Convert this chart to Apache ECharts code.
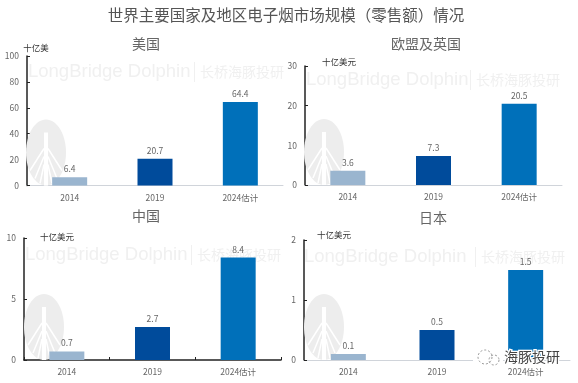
<!DOCTYPE html>
<html>
<head>
<meta charset="utf-8">
<style>html,body{margin:0;padding:0;background:#fff}#main{width:578px;height:383px}</style>
<script src="https://cdn.jsdelivr.net/npm/echarts@6/dist/echarts.min.js"></script>
</head>
<body>
<div id="main"></div>
<script>
var categories = ['2014', '2019', '2024估计'];
var usValues = [6.4, 20.7, 64.4];
var euValues = [3.6, 7.3, 20.5];
var cnValues = [0.7, 2.7, 8.4];
var jpValues = [0.1, 0.5, 1.5];
var barColors = ['#9AB5CF', '#004B9B', '#0070BA'];
var font = '"Noto Sans CJK SC","Liberation Sans",sans-serif';

// 每个小图的位置
var panels = [
    {name: '美国', data: usValues, max: 100, interval: 20, unit: '十亿美', left: 27, right: 283, top: 56, bottom: 185.5, titleX: 146, titleY: 44, unitX: 36, unitY: 48, logoX: 46, wmY: 72, wmX: 28, wmGap: 172, tickX: false},
    {name: '欧盟及英国', data: euValues, max: 30, interval: 10, unit: '十亿美元', left: 305, right: 562, top: 66, bottom: 185, titleX: 426, titleY: 44, unitX: 339, unitY: 62, logoX: 324, wmY: 80, wmX: 306, wmGap: 170, tickX: false},
    {name: '中国', data: cnValues, max: 10, interval: 5, unit: '十亿美元', left: 24, right: 281, top: 238, bottom: 360, titleX: 146, titleY: 216, unitX: 57, unitY: 237, logoX: 44, wmY: 255, wmX: 25, wmGap: 172, tickX: true},
    {name: '日本', data: jpValues, max: 2, interval: 1, unit: '十亿美元', left: 304, right: 570, top: 240, bottom: 360, titleX: 433, titleY: 218, unitX: 334, unitY: 235, logoX: 324, wmY: 257, wmX: 304, wmGap: 177, tickX: false}
];

var grids = [], xAxes = [], yAxes = [], series = [], graphics = [];

function label(x, y, text, size, color, extra) {
    var style = {x: x, y: y, text: text, fontSize: size, fill: color, fontFamily: font, align: 'center', verticalAlign: 'middle'};
    for (var k in extra) style[k] = extra[k];
    return {type: 'text', z: 5, silent: true, style: style};
}

panels.forEach(function (p, i) {
    grids.push({left: p.left, top: p.top, width: p.right - p.left, height: p.bottom - p.top});
    xAxes.push({
        type: 'category', gridIndex: i, data: categories,
        axisLine: {lineStyle: {color: p.tickX ? '#222' : '#D0D4DA', width: p.tickX ? 1.5 : 1}},
        axisTick: {show: p.tickX, inside: true, length: 3, lineStyle: {color: '#222'}},
        axisLabel: {color: '#666', fontSize: 8.5, margin: 8, fontFamily: font}
    });
    yAxes.push({
        type: 'value', gridIndex: i, min: 0, max: p.max, interval: p.interval,
        axisLine: {show: true, lineStyle: {color: '#222', width: 1.5}},
        axisTick: {show: true, inside: true, length: 3, lineStyle: {color: '#222'}},
        axisLabel: {color: '#666', fontSize: 8.5, margin: 8, fontFamily: font},
        splitLine: {show: false}
    });
    series.push({
        type: 'bar', xAxisIndex: i, yAxisIndex: i, barWidth: 35, z: 3,
        data: p.data.map(function (v, j) {
            return {value: v, itemStyle: {color: barColors[j]}};
        }),
        label: {show: true, position: 'top', distance: 4, color: '#666', fontSize: 8.5, fontFamily: font}
    });

    // 小标题和单位
    graphics.push(label(p.titleX, p.titleY, p.name, 14, '#666'));
    graphics.push(label(p.unitX, p.unitY, p.unit, 8.5, '#333'));

    // 水印
    graphics.push({type: 'text', z: 1, silent: true, style: {x: p.wmX, y: p.wmY, text: 'LongBridge Dolphin', fontSize: 18.5, fill: '#F0F0F0', fontFamily: '"Liberation Sans"', verticalAlign: 'middle'}});
    graphics.push({type: 'rect', z: 1, silent: true, shape: {x: p.wmX + p.wmGap - 6, y: p.wmY - 10, width: 1, height: 20}, style: {fill: '#F0F0F0'}});
    graphics.push({type: 'text', z: 1, silent: true, style: {x: p.wmX + p.wmGap, y: p.wmY, text: '长桥海豚投研', fontSize: 14, fill: '#F0F0F0', fontFamily: font, verticalAlign: 'middle'}});
    var ly = p.bottom - 33;
    graphics.push({type: 'ellipse', z: 1, silent: true, shape: {cx: p.logoX, cy: ly, rx: 20, ry: 33}, style: {fill: '#EDEDED'}});
    graphics.push({type: 'rect', z: 1, silent: true, shape: {x: p.logoX - 2, y: ly - 20, width: 4, height: 53}, style: {fill: '#FFFFFF'}});
    [-1, 1].forEach(function (d) {
        [[-4, 16, 18], [4, 11, 26], [12, 6, 31]].forEach(function (s) {
            graphics.push({type: 'polyline', z: 1, silent: true, shape: {points: [[p.logoX + d * 2, ly + s[0]], [p.logoX + d * s[1], ly + s[2]]]}, style: {stroke: '#FFFFFF', lineWidth: 1.5, fill: null}});
        });
    });
});

// 总标题
graphics.push(label(286, 15, '世界主要国家及地区电子烟市场规模（零售额）情况', 15.5, '#555'));
// 公众号水印
graphics.push({type: 'rect', z: 4, silent: true, shape: {x: 473, y: 349, width: 30, height: 16}, style: {fill: '#fff'}});
graphics.push(label(532, 357, '海豚投研', 14, '#444', {stroke: '#fff', lineWidth: 2.5}));
graphics.push({type: 'circle', z: 5, silent: true, shape: {cx: 485, cy: 357, r: 7}, style: {fill: 'none', stroke: '#999', lineWidth: 1, lineDash: [2, 2]}});
graphics.push({type: 'circle', z: 5, silent: true, shape: {cx: 494, cy: 360, r: 5}, style: {fill: 'none', stroke: '#999', lineWidth: 1, lineDash: [2, 2]}});

var myChart = echarts.init(document.getElementById('main'), null, {renderer: 'canvas'});
myChart.setOption({
    animation: false,
    backgroundColor: '#fff',
    grid: grids,
    xAxis: xAxes,
    yAxis: yAxes,
    series: series,
    graphic: graphics
});
</script>
</body>
</html>
